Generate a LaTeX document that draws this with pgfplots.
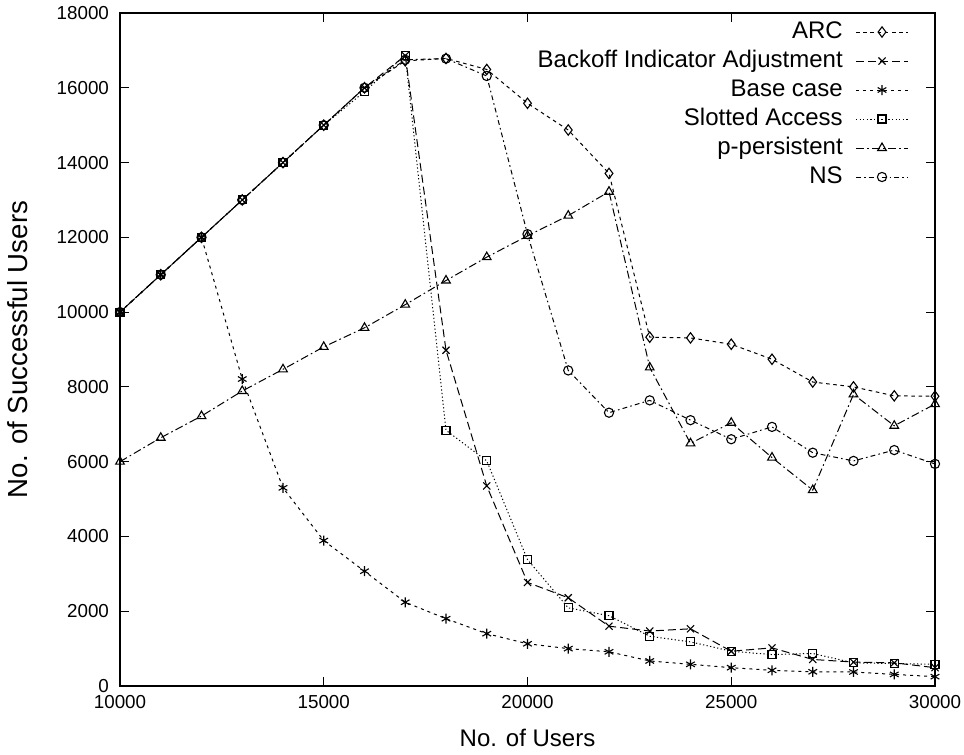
\documentclass[border=0pt]{standalone}
\usepackage{pgfplots}
\pgfplotsset{compat=1.18}
\usepackage{fontspec}
\setmainfont{Liberation Sans}
\begin{document}
\begin{tikzpicture}
\begin{axis}[
  scale only axis, width=407.5pt, height=336.5pt,
  xmin=10000, xmax=30000, ymin=0, ymax=18000,
  xtick={10000,15000,20000,25000,30000},
  ytick={0,2000,4000,6000,8000,10000,12000,14000,16000,18000},
  scaled ticks=false,
  /pgf/number format/set thousands separator={},
  /pgf/number format/assume math mode=true,
  tick style={black, line width=0.6pt}, tick align=inside, major tick length=4.5pt,
  axis line style={line width=0.8pt},
  ticklabel style={font=\fontsize{9.4}{10}\selectfont},
  xticklabel style={yshift=-1pt},
  yticklabel style={xshift=-2pt},
  xlabel={No. of Users}, ylabel={No. of Successful Users},
  every axis x label/.style={at={(rel axis cs:0.5,0)}, anchor=center, yshift=-26pt, font=\fontsize{12}{14}\selectfont},
  every axis y label/.style={at={(rel axis cs:0,0.5)}, anchor=center, xshift=-51pt, rotate=90, font=\fontsize{13.8}{15}\selectfont},
  every axis plot/.append style={line width=0.5pt, black, mark options={solid, line width=0.55pt}},
  mark size=2pt,
  legend plot pos=right, legend cell align=right,
  legend style={draw=none, fill=none, at={(rel axis cs:0.968,0.993)}, anchor=north east,
    font=\fontsize{12}{13.9}\selectfont, row sep=0.6pt, inner sep=0pt,
    nodes={inner sep=1.4pt, text height=8.6pt, text depth=2.5pt}},
  legend image code/.code={\path (0pt,0pt); \draw[mark repeat=2,mark phase=2,#1] plot coordinates {(5pt,0pt)(18pt,0pt)(31pt,0pt)};},
]
\addplot[dash pattern=on 1.8pt off 1.8pt, mark=diamond, mark size=2.6pt] coordinates {
(10000,10000)(11000,11000)(12000,12000)(13000,13000)(14000,14000)(15000,15000)(16000,16000)
(17000,16720)(18000,16785)(19000,16490)(20000,15585)(21000,14870)(22000,13710)(23000,9330)
(24000,9310)(25000,9140)(26000,8740)(27000,8130)(28000,8000)(29000,7760)(30000,7750)};
\addlegendentry{ARC}
\addplot[dash pattern=on 4pt off 2pt, mark=x, mark size=2.5pt] coordinates {
(10000,10000)(11000,11000)(12000,12000)(13000,13000)(14000,14000)(15000,15000)(16000,16000)
(17000,16860)(18000,8980)(19000,5350)(20000,2770)(21000,2360)(22000,1600)(23000,1470)
(24000,1530)(25000,930)(26000,1020)(27000,710)(28000,640)(29000,620)(30000,490)};
\addlegendentry{Backoff Indicator Adjustment}
\addplot[dash pattern=on 1.5pt off 2pt, mark=asterisk, mark size=2.5pt] coordinates {
(10000,10000)(11000,11000)(12000,12000)(13000,8210)(14000,5300)(15000,3890)(16000,3070)
(17000,2240)(18000,1800)(19000,1400)(20000,1130)(21000,1000)(22000,915)(23000,670)
(24000,580)(25000,490)(26000,420)(27000,380)(28000,375)(29000,310)(30000,250)};
\addlegendentry{Base case}
\addplot[dash pattern=on 0.6pt off 1.2pt, mark=square, mark size=2pt] coordinates {
(10000,10000)(11000,11000)(12000,12000)(13000,13000)(14000,14000)(15000,15000)(16000,15900)
(17000,16870)(18000,6840)(19000,6020)(20000,3380)(21000,2090)(22000,1880)(23000,1330)
(24000,1180)(25000,930)(26000,840)(27000,870)(28000,620)(29000,600)(30000,580)};
\addlegendentry{Slotted Access}
\addplot[dash pattern=on 4pt off 1.6pt on 0.8pt off 1.6pt, mark=triangle, mark size=2.5pt] coordinates {
(10000,6000)(11000,6640)(12000,7220)(13000,7890)(14000,8470)(15000,9070)(16000,9580)
(17000,10200)(18000,10845)(19000,11470)(20000,12040)(21000,12580)(22000,13220)(23000,8520)
(24000,6490)(25000,7040)(26000,6110)(27000,5240)(28000,7800)(29000,6960)(30000,7540)};
\addlegendentry{p-persistent}
\addplot[dash pattern=on 2.4pt off 1.6pt on 0.8pt off 1.6pt, mark=o, mark size=2.3pt] coordinates {
(10000,10000)(11000,11000)(12000,12000)(13000,13000)(14000,14000)(15000,15000)(16000,16000)
(17000,16750)(18000,16780)(19000,16315)(20000,12085)(21000,8440)(22000,7310)(23000,7640)
(24000,7110)(25000,6600)(26000,6930)(27000,6240)(28000,6020)(29000,6310)(30000,5940)};
\addlegendentry{NS}
\end{axis}
\pgfresetboundingbox
\path[use as bounding box] ([shift={(-60pt,-34.5pt)}]current axis.south west) rectangle ([shift={(14.5pt,6.5pt)}]current axis.north east);
\end{tikzpicture}
\end{document}
